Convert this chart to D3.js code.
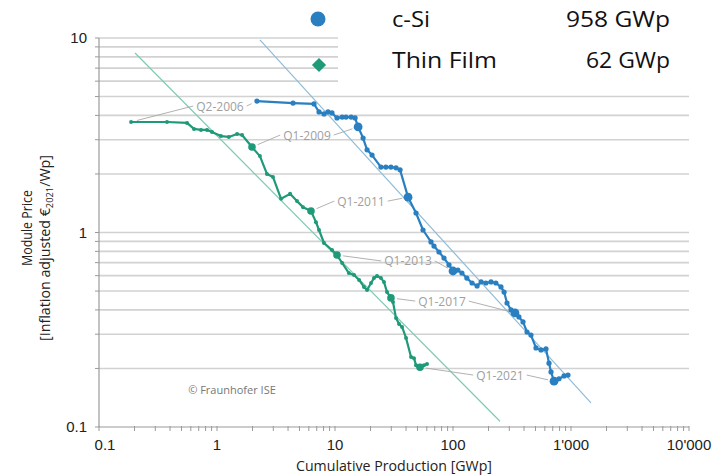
<!DOCTYPE html>
<html>
<head>
<meta charset="utf-8">
<script src="https://cdn.jsdelivr.net/npm/d3@7"></script>
<style>
  html, body { margin: 0; padding: 0; background: #fff; }
  svg { display: block; }
</style>
</head>
<body>
<svg id="chart" width="715" height="475"></svg>
<script>
// ---------------- DATA ----------------
const seriesNames = ["c-Si", "Thin Film"];
const seriesTotals = ["958 GWp", "62 GWp"];

// c-Si: cumulative production [GWp] and module price [€2021/Wp]
const cSiProduction = [2.18, 4.41, 6.64, 7.32, 8.07, 8.72, 9.43, 10.4, 11.5, 12.4, 13.7, 14.8, 15.7, 17.3, 18.7, 20.6,
  24.5, 27.0, 29.8, 32.9, 35.6, 41.6, 48.6, 55.7, 65.1, 69.0, 76.1, 83.9, 92.5, 100, 110, 119, 131, 145, 160, 173,
  190, 210, 231, 255, 271, 287, 310, 335, 362, 392, 424, 458, 505, 557, 614, 651, 677, 718, 791, 873, 943];
const cSiPrice = [4.74, 4.63, 4.58, 4.17, 4.07, 4.17, 4.12, 3.88, 3.92, 3.92, 3.92, 3.88, 3.49, 3.06, 2.66, 2.50,
  2.17, 2.17, 2.17, 2.15, 2.10, 1.52, 1.26, 1.03, 0.894, 0.852, 0.794, 0.739, 0.681, 0.634, 0.641, 0.619, 0.583, 0.550, 0.531, 0.557,
  0.550, 0.557, 0.550, 0.525, 0.494, 0.434, 0.400, 0.386, 0.368, 0.347, 0.308, 0.297, 0.255, 0.249, 0.252, 0.213, 0.192, 0.172, 0.177, 0.183, 0.185];

// Thin film
const tfProduction = [0.187, 0.377, 0.557, 0.638, 0.732, 0.823, 0.907, 1.08, 1.26, 1.48, 1.63, 1.98, 2.31, 2.65, 2.98, 3.49,
  4.16, 4.76, 5.36, 6.26, 6.90, 7.32, 8.07, 9.43, 10.4, 11.5, 13.1, 14.5, 16.0, 17.6, 18.7, 20.2, 21.4, 22.7, 24.5, 26.0,
  27.6, 29.8, 31.0, 32.9, 34.9, 37.0, 40.0, 44.1, 46.7, 48.6, 52.5, 56.8, 60.2];
const tfPrice = [3.70, 3.70, 3.66, 3.41, 3.37, 3.37, 3.29, 3.13, 3.10, 3.21, 3.17, 2.75, 2.47, 2.00, 1.93, 1.49,
  1.58, 1.45, 1.35, 1.29, 1.13, 1.03, 0.883, 0.813, 0.766, 0.697, 0.619, 0.605, 0.570, 0.525, 0.506, 0.550, 0.583, 0.598, 0.583, 0.557,
  0.494, 0.461, 0.439, 0.363, 0.339, 0.327, 0.287, 0.229, 0.226, 0.208, 0.203, 0.208, 0.211];

// Learning-curve (trend) lines: [x0, x1] and [y0, y1]
const cSiTrendX = [2.31, 1477];
const cSiTrendY = [9.77, 0.133];
const tfTrendX = [0.202, 250];
const tfTrendY = [8.37, 0.107];

// Quarter annotations: label, index into c-Si series, index into thin-film series
const annLabels = ["Q2-2006", "Q1-2009", "Q1-2011", "Q1-2013", "Q1-2017", "Q1-2021"];
const annCSiIndex = [0, 12, 21, 29, 43, 53];
const annTfIndex = [0, 11, 19, 24, 37, 46];
// label anchor (data units)
const annLabelX = [1.06, 5.79, 16.6, 41.6, 80.7, 250];
const annLabelY = [4.47, 3.17, 1.45, 0.714, 0.444, 0.185];

// Axis ticks
const xTickValues = [0.1, 1, 10, 100, 1000, 10000];
const xTickLabels = ["0.1", "1", "10", "100", "1'000", "10'000"];
const yTickValues = [0.1, 1, 10];
const yTickLabels = ["0.1", "1", "10"];

// ---------------- DRAW ----------------
const svg = d3.select("#chart");
const x = d3.scaleLog().domain([0.1, 10000]).range([99, 689]);
const y = d3.scaleLog().domain([0.1, 10]).range([427, 38]);

const blue = "#2a7fc1";
const green = "#1f9a78";
const blueLight = "#8fbcd9";
const greenLight = "#7fcab2";
const grey = "#9a9a9a";

// minor values
const yMinor = [];
[0.1, 1].forEach(d => { for (let k = 1; k <= 9; k++) yMinor.push(d * k); });
yMinor.push(10);
const xMinor = [];
[0.1, 1, 10, 100, 1000].forEach(d => { for (let k = 1; k <= 9; k++) xMinor.push(d * k); });
xMinor.push(10000);

// gridlines
svg.append("g").selectAll("line").data(yMinor.filter(v => v > 0.1001)).join("line")
  .attr("x1", x(0.1)).attr("x2", x(10000))
  .attr("y1", d => y(d)).attr("y2", d => y(d))
  .attr("stroke", "#d2d2d2").attr("stroke-width", 1.6);

// axes lines
svg.append("line").attr("x1", x(0.1)).attr("x2", x(0.1)).attr("y1", y(10)).attr("y2", y(0.1))
  .attr("stroke", grey).attr("stroke-width", 1.2);
svg.append("line").attr("x1", x(0.1)).attr("x2", x(10000)).attr("y1", y(0.1)).attr("y2", y(0.1))
  .attr("stroke", grey).attr("stroke-width", 1.2);

// y ticks (left)
svg.append("g").selectAll("line").data(yMinor).join("line")
  .attr("x1", x(0.1) - 4).attr("x2", x(0.1))
  .attr("y1", d => y(d)).attr("y2", d => y(d))
  .attr("stroke", grey).attr("stroke-width", 1);
// x ticks (down)
svg.append("g").selectAll("line").data(xMinor).join("line")
  .attr("x1", d => x(d)).attr("x2", d => x(d))
  .attr("y1", y(0.1) - 1).attr("y2", y(0.1) + 4)
  .attr("stroke", grey).attr("stroke-width", 1);

// tick labels
svg.append("g").selectAll("text").data(xTickValues).join("text")
  .attr("x", (d, i) => x(d) + (i === 0 ? 6 : 0))
  .attr("y", y(0.1) + 23)
  .attr("text-anchor", "middle")
  .attr("font-family", "'Liberation Sans', Arial, sans-serif")
  .attr("font-size", 15).attr("fill", "#222")
  .text((d, i) => xTickLabels[i]);
svg.append("g").selectAll("text").data(yTickValues).join("text")
  .attr("x", 87)
  .attr("y", d => y(d) + 5)
  .attr("text-anchor", "end")
  .attr("font-family", "'Liberation Sans', Arial, sans-serif")
  .attr("font-size", 15).attr("fill", "#222")
  .text((d, i) => yTickLabels[i]);

// axis titles
svg.append("text").attr("x", 394).attr("y", 471).attr("text-anchor", "middle")
  .attr("font-family", "'Open Sans', sans-serif").attr("font-size", 14.5).attr("fill", "#222")
  .attr("textLength", 196).attr("lengthAdjust", "spacingAndGlyphs")
  .text("Cumulative Production [GWp]");
svg.append("text").attr("transform", "translate(32,228) rotate(-90)").attr("text-anchor", "middle")
  .attr("font-family", "'Open Sans', sans-serif").attr("font-size", 15).attr("fill", "#222")
  .attr("textLength", 76).attr("lengthAdjust", "spacingAndGlyphs")
  .text("Module Price");
const yt2 = svg.append("text").attr("transform", "translate(50,248) rotate(-90)").attr("text-anchor", "middle")
  .attr("font-family", "'Open Sans', sans-serif").attr("font-size", 14.5).attr("fill", "#222")
  .attr("textLength", 186).attr("lengthAdjust", "spacingAndGlyphs");
yt2.append("tspan").text("[Inflation adjusted €");
yt2.append("tspan").attr("font-size", 9.5).attr("dy", 3).text("2021");
yt2.append("tspan").attr("dy", -3).text("/Wp]");

// copyright
svg.append("text").attr("x", 232).attr("y", 394).attr("text-anchor", "middle")
  .attr("font-family", "'Open Sans', sans-serif").attr("font-size", 11).attr("fill", "#777")
  .text("© Fraunhofer ISE");

// trend lines
function trend(xs, ys, col) {
  svg.append("line")
    .attr("x1", x(xs[0])).attr("y1", y(ys[0]))
    .attr("x2", x(xs[1])).attr("y2", y(ys[1]))
    .attr("stroke", col).attr("stroke-width", 1.2);
}
trend(cSiTrendX, cSiTrendY, blueLight);
trend(tfTrendX, tfTrendY, greenLight);

// annotations
const annG = svg.append("g");
annLabels.forEach((lab, i) => {
  const lx = x(annLabelX[i]), ly = y(annLabelY[i]);
  const t = annG.append("text").attr("x", lx).attr("y", ly + 4.5).attr("text-anchor", "middle")
    .attr("font-family", "'Open Sans', sans-serif").attr("font-size", 12).attr("fill", "#a0a0a0")
    .text(lab);
  const w = t.node().getComputedTextLength();
  const pts = [
    [x(tfProduction[annTfIndex[i]]), y(tfPrice[annTfIndex[i]]), lx - w / 2 - 3],
    [x(cSiProduction[annCSiIndex[i]]), y(cSiPrice[annCSiIndex[i]]), lx + w / 2 + 3]
  ];
  pts.forEach(([px, py, ex]) => {
    const dx = ex - px, dy = ly - py, len = Math.hypot(dx, dy);
    annG.append("line")
      .attr("x1", px + dx / len * 6).attr("y1", py + dy / len * 6)
      .attr("x2", ex).attr("y2", ly)
      .attr("stroke", "#a8a8a8").attr("stroke-width", 0.9);
  });
});

// series lines
const line = d3.line().x(d => x(d[0])).y(d => y(d[1]));
function series(xs, ys, col, r, annIdx) {
  const data = xs.map((v, i) => [v, ys[i]]);
  svg.append("path").datum(data).attr("d", line)
    .attr("fill", "none").attr("stroke", col).attr("stroke-width", 2.2).attr("stroke-linejoin", "round");
  svg.append("g").selectAll("circle").data(data).join("circle")
    .attr("cx", d => x(d[0])).attr("cy", d => y(d[1]))
    .attr("r", (d, i) => annIdx.includes(i) && i > 0 ? r + 1.8 : r)
    .attr("fill", col);
}
series(tfProduction, tfPrice, green, 2, annTfIndex);
series(cSiProduction, cSiPrice, blue, 2.6, annCSiIndex);

// legend (white panel covering grid)
svg.append("rect").attr("x", 338).attr("y", 0).attr("width", 377).attr("height", 89).attr("fill", "#fff");
const legFont = "'Open Sans', sans-serif";
svg.append("circle").attr("cx", 318).attr("cy", 19).attr("r", 7.5).attr("fill", blue);
svg.append("path").attr("d", d3.symbol(d3.symbolSquare, 100)())
  .attr("transform", "translate(319,65) rotate(45)").attr("fill", green);
const legG = svg.append("g");
seriesNames.forEach((n, i) => {
  legG.append("text").attr("x", 392).attr("y", 27 + i * 41)
    .attr("font-family", legFont).attr("font-size", 21).attr("fill", "#111")
    .attr("textLength", i === 0 ? 38 : 105).attr("lengthAdjust", "spacingAndGlyphs")
    .text(n);
  legG.append("text").attr("x", 670).attr("y", 27 + i * 41).attr("text-anchor", "end")
    .attr("font-family", legFont).attr("font-size", 21).attr("fill", "#111")
    .attr("textLength", i === 0 ? 104 : 84).attr("lengthAdjust", "spacingAndGlyphs")
    .text(seriesTotals[i]);
});
</script>
</body>
</html>
